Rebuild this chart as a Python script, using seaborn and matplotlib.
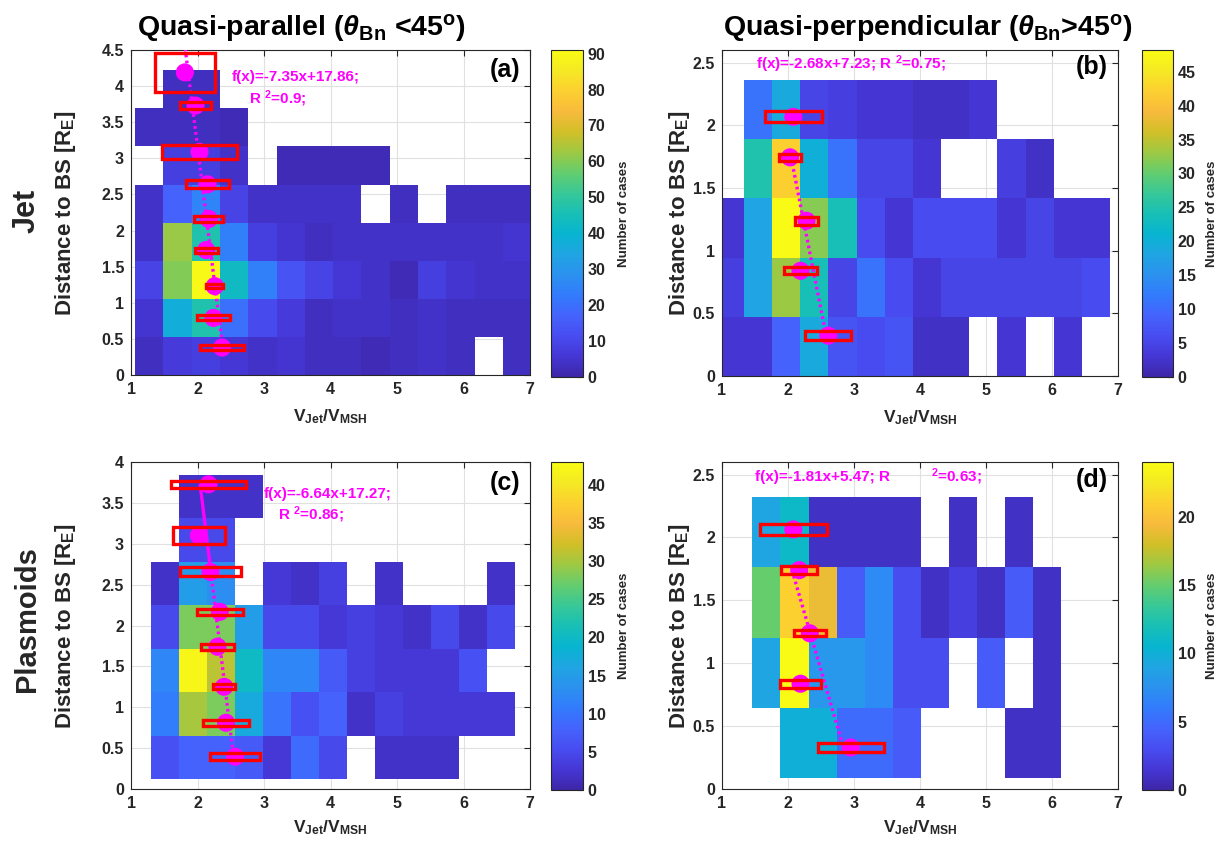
import numpy as np
import pandas as pd
import matplotlib
matplotlib.use("Agg")
import matplotlib.pyplot as plt
from matplotlib.colors import LinearSegmentedColormap
from matplotlib.patches import Rectangle
from matplotlib.ticker import FuncFormatter
import seaborn as sns

# ---------------- data ----------------
# (a) Jet, quasi-parallel
a_xedges = np.linspace(1.06, 7.02, 15)
a_yedges = np.linspace(0.0, 4.22, 9)
a_counts = [
    [3, 7, 8, 6, 4, 5, 3, 3, 2, 3, 4, 3, 0, 3],
    [5, 37, 47, 20, 11, 7, 3, 4, 4, 3, 4, 3, 3, 3],
    [9, 60, 90, 43, 24, 13, 9, 6, 4, 2, 8, 5, 4, 4],
    [4, 62, 47, 24, 8, 5, 3, 4, 4, 4, 4, 4, 4, 5],
    [4, 17, 25, 9, 4, 4, 4, 4, 0, 3, 0, 3, 3, 3],
    [0, 8, 8, 4, 0, 2, 2, 2, 2, 0, 0, 0, 0, 0],
    [3, 3, 3, 2, 0, 0, 0, 0, 0, 0, 0, 0, 0, 0],
    [0, 3, 3, 0, 0, 0, 0, 0, 0, 0, 0, 0, 0, 0],
]
a_x = [1.81, 1.97, 2.03, 2.15, 2.17, 2.13, 2.26, 2.24, 2.37]
a_y = [4.19, 3.73, 3.09, 2.64, 2.16, 1.73, 1.23, 0.79, 0.38]
a_xerr = [0.45, 0.24, 0.565, 0.33, 0.22, 0.175, 0.13, 0.25, 0.335]
a_yerr = [0.275, 0.045, 0.10, 0.055, 0.035, 0.035, 0.03, 0.035, 0.04]
a_fit = (-7.35, 17.86)

# (b) Jet, quasi-perpendicular
b_xedges = np.linspace(0.906, 6.88, 15)
b_yedges = np.linspace(0.0, 2.36, 6)
b_counts = [
    [3, 3, 9, 19, 7, 6, 7, 2, 2, 0, 3, 0, 3, 0],
    [4, 18, 33, 24, 5, 11, 6, 3, 5, 5, 5, 5, 5, 6],
    [3, 18, 48, 32, 24, 6, 3, 6, 6, 6, 3, 5, 3, 3],
    [0, 25, 42, 20, 11, 5, 5, 3, 0, 0, 4, 2, 0, 0],
    [0, 11, 19, 5, 4, 3, 3, 2, 2, 3, 0, 0, 0, 0],
]
b_x = [2.08, 2.03, 2.28, 2.19, 2.61]
b_y = [2.067, 1.744, 1.238, 0.839, 0.322]
b_xerr = [0.43, 0.17, 0.175, 0.255, 0.345]
b_yerr = [0.045, 0.03, 0.03, 0.027, 0.036]
b_fit = (-2.68, 7.23)

# (c) Plasmoids, quasi-parallel
c_xedges = np.linspace(1.296, 6.77, 14)
c_yedges = np.linspace(0.118, 3.845, 8)
c_counts = [
    [6, 8, 8, 7, 3, 9, 5, 0, 2, 2, 2, 0, 0],
    [11, 30, 28, 17, 10, 6, 8, 2, 4, 3, 3, 3, 3],
    [12, 42, 31, 20, 12, 12, 7, 4, 3, 3, 3, 6, 0],
    [5, 28, 28, 15, 5, 5, 3, 4, 3, 2, 5, 2, 5],
    [2, 15, 13, 0, 3, 2, 4, 0, 2, 0, 0, 0, 2],
    [0, 5, 5, 0, 0, 0, 0, 0, 0, 0, 0, 0, 0],
    [0, 2, 2, 2, 0, 0, 0, 0, 0, 0, 0, 0, 0],
]
c_x = [2.165, 2.02, 2.195, 2.335, 2.30, 2.40, 2.43, 2.565]
c_y = [3.727, 3.10, 2.655, 2.167, 1.74, 1.25, 0.81, 0.395]
c_xerr = [0.565, 0.39, 0.455, 0.345, 0.25, 0.17, 0.34, 0.375]
c_yerr = [0.045, 0.10, 0.055, 0.04, 0.035, 0.03, 0.035, 0.04]
c_fit = (-6.64, 17.27)

# (d) Plasmoids, quasi-perpendicular
d_xedges = np.linspace(1.46, 6.14, 12)
d_yedges = np.linspace(0.085, 2.32, 5)
d_counts = [
    [0, 10, 10, 5, 5, 4, 0, 0, 0, 1, 1],
    [9, 24, 8, 8, 7, 3, 3, 0, 4, 0, 1],
    [15, 21, 19, 4, 7, 3, 1, 2, 1, 4, 1],
    [9, 11, 1, 1, 1, 1, 0, 1, 0, 1, 0],
]
d_x = [2.08, 2.17, 2.33, 2.19, 2.95]
d_y = [2.064, 1.74, 1.238, 0.837, 0.33]
d_xerr = [0.51, 0.27, 0.24, 0.31, 0.50]
d_yerr = [0.045, 0.03, 0.025, 0.03, 0.038]
d_fit = (-1.81, 5.47)

x_ticks = [1, 2, 3, 4, 5, 6, 7]

# ---------------- style ----------------
sns.set_theme(style="white")
plt.rcParams['font.family'] = ['Liberation Sans', 'DejaVu Sans']
plt.rcParams.update({
    'font.weight': 'bold',
    'axes.labelweight': 'bold',
    'mathtext.fontset': 'custom',
    'mathtext.rm': 'Liberation Sans:bold',
    'mathtext.it': 'Liberation Sans:italic',
    'mathtext.bf': 'Liberation Sans:bold',
})

parula_anchors = [
    (0.2422, 0.1504, 0.6603), (0.2706, 0.2147, 0.8364), (0.2813, 0.3006, 0.9414),
    (0.2699, 0.3892, 0.9906), (0.1963, 0.4847, 0.9892), (0.1687, 0.5703, 0.9359),
    (0.1248, 0.6459, 0.8883), (0.0297, 0.7082, 0.8163), (0.0964, 0.7500, 0.7120),
    (0.2161, 0.7843, 0.5923), (0.3909, 0.8029, 0.4354), (0.6174, 0.7876, 0.2612),
    (0.8203, 0.7498, 0.1535), (0.9728, 0.7298, 0.2394), (0.9892, 0.8136, 0.1885),
    (0.9597, 0.9135, 0.1423), (0.9769, 0.9839, 0.0805),
]
parula = LinearSegmentedColormap.from_list("parula", parula_anchors, N=256)

MAG = '#ff00ff'
RED = '#ff0000'
DARK = '#262626'

W, H = 1228, 846
fig = plt.figure(figsize=(W / 100, H / 100), dpi=100)


def fr(l, t, r, b):
    return [l / W, 1 - b / H, (r - l) / W, (b - t) / H]


fmt = FuncFormatter(lambda v, p: f"{v:g}")


def panel(rect, crect, xedges, yedges, counts, vmax, cticks, ymax,
          px, py, pxerr, pyerr, fit, fit_segments, ylab_x, xlab_y, tag, tag_y):
    ax = fig.add_axes(fr(*rect))
    cax = fig.add_axes(fr(*crect))
    counts = np.array(counts, float)
    xc = (xedges[:-1] + xedges[1:]) / 2
    yc = (yedges[:-1] + yedges[1:]) / 2
    XX, YY = np.meshgrid(xc, yc)
    df = pd.DataFrame({'x': XX.ravel(), 'y': YY.ravel(), 'w': counts.ravel()})
    df = df[df.w > 0]
    sns.histplot(data=df, x='x', y='y', weights='w', bins=[xedges, yedges],
                 cmap=parula, ax=ax, cbar=False)
    mesh = ax.collections[0]
    mesh.set_clim(0, vmax)
    mesh.set_zorder(1)
    cb = fig.colorbar(mesh, cax=cax)
    cb.set_ticks(cticks)
    cb.outline.set_edgecolor(DARK)
    cb.outline.set_linewidth(0.8)
    cax.tick_params(direction='in', length=4, width=0.8, color=DARK,
                    labelsize=11.5, labelcolor=DARK)
    cb.set_label('Number of cases', fontsize=9.5, fontweight='bold', color=DARK)
    cax.yaxis.set_label_coords(2.08, 0.5)

    # fit line
    m, b0 = fit
    for (y0, y1, ls) in fit_segments:
        yy = np.array([y0, y1])
        xx = (yy - b0) / m
        ax.plot(xx, yy, color=MAG, lw=2.4, ls=ls, zorder=3,
                dash_capstyle='butt', solid_capstyle='butt')
    # mean points
    sns.scatterplot(x=px, y=py, s=170, color=MAG, edgecolor='none', ax=ax,
                    zorder=4, legend=False)
    # error boxes
    for x, y, ex, ey in zip(px, py, pxerr, pyerr):
        ax.add_patch(Rectangle((x - ex, y - ey), 2 * ex, 2 * ey, fill=False,
                               edgecolor=RED, lw=2.4, zorder=5))

    ax.set_xlim(1, 7)
    ax.set_ylim(0, ymax)
    ax.set_xticks(x_ticks)
    ax.set_yticks(np.arange(0, ymax + 1e-9, 0.5))
    ax.yaxis.set_major_formatter(fmt)
    ax.xaxis.set_major_formatter(fmt)
    ax.set_axisbelow(True)
    ax.grid(True, color='#e0e0e0', lw=0.8, zorder=0)
    for s in ax.spines.values():
        s.set_edgecolor(DARK)
        s.set_linewidth(0.8)
    ax.tick_params(direction='in', top=True, right=True, length=4, width=0.8,
                   color=DARK, labelsize=11.5, labelcolor=DARK, pad=5)
    ax.set_xlabel(r'V$_{\mathbf{Jet}}$/V$_{\mathbf{MSH}}$', fontsize=12.5,
                  color=DARK)
    ax.set_ylabel(r'Distance to BS [R$_{\mathbf{E}}$]', fontsize=16, color=DARK)
    ax.yaxis.set_label_coords(ylab_x, 0.5)
    ax.xaxis.set_label_coords(0.5, xlab_y)
    ax.text(0.975, tag_y, tag, transform=ax.transAxes, ha='right', va='center',
            fontsize=18, fontweight='bold', color='black')
    return ax


axa = panel((131, 50, 530, 375), (551, 50, 583, 377), a_xedges, a_yedges,
            a_counts, 91, list(range(0, 91, 10)), 4.5,
            a_x, a_y, a_xerr, a_yerr, a_fit, [(4.6, 0.38, (0, (0.8, 1.0)))],
            -0.133, -0.10, '(a)', 0.938)
axb = panel((722, 50, 1118, 376), (1142, 50, 1173, 377), b_xedges, b_yedges,
            b_counts, 48.2, list(range(0, 46, 5)), 2.6,
            b_x, b_y, b_xerr, b_yerr, b_fit, [(1.744, 0.322, (0, (0.8, 1.0)))],
            -0.076, -0.10, '(b)', 0.948)
axc = panel((131, 462, 530, 789), (551, 462, 583, 790), c_xedges, c_yedges,
            c_counts, 43, list(range(0, 41, 5)), 4.0,
            c_x, c_y, c_xerr, c_yerr, c_fit,
            [(3.727, 2.655, '-'), (2.655, 0.395, (0, (0.8, 1.0)))],
            -0.133, -0.09, '(c)', 0.936)
axd = panel((722, 462, 1118, 789), (1142, 462, 1173, 790), d_xedges, d_yedges,
            d_counts, 24, list(range(0, 21, 5)), 2.6,
            d_x, d_y, d_xerr, d_yerr, d_fit, [(1.74, 0.33, (0, (0.8, 1.0)))],
            -0.076, -0.09, '(d)', 0.945)

tk = dict(color=MAG, fontsize=11, fontweight='bold', va='center', ha='left', zorder=6)
axa.text(2.51, 4.13, 'f(x)=-7.35x+17.86;', **tk)
axa.text(2.77, 3.83, r'R $^{\mathbf{2}}$=0.9;', **tk)
axb.text(1.51, 2.485, r'f(x)=-2.68x+7.23; R $^{\mathbf{2}}$=0.75;', **tk)
axc.text(3.0, 3.61, 'f(x)=-6.64x+17.27;', **tk)
axc.text(3.205, 3.36, r'R $^{\mathbf{2}}$=0.86;', **tk)
axd.text(1.495, 2.48, 'f(x)=-1.81x+5.47; R', **tk)
axd.text(4.16, 2.48, r'$^{\mathbf{2}}$=0.63;', **tk)

fig.text(301 / W, 1 - 28 / H, r'Quasi-parallel ($\theta_{\mathbf{Bn}}$ <45$^{\mathbf{o}}$)',
         ha='center', va='center', fontsize=20.5, fontweight='bold', color='black')
fig.text(928 / W, 1 - 28 / H, r'Quasi-perpendicular ($\theta_{\mathbf{Bn}}$>45$^{\mathbf{o}}$)',
         ha='center', va='center', fontsize=20.5, fontweight='bold', color='black')
fig.text(27 / W, 1 - 211 / H, 'Jet', rotation=90, ha='center', va='center',
         fontsize=22, fontweight='bold', color=DARK)
fig.text(27 / W, 1 - 619 / H, 'Plasmoids', rotation=90, ha='center', va='center',
         fontsize=21, fontweight='bold', color=DARK)

fig.savefig('out.png', dpi=100, facecolor='white')
